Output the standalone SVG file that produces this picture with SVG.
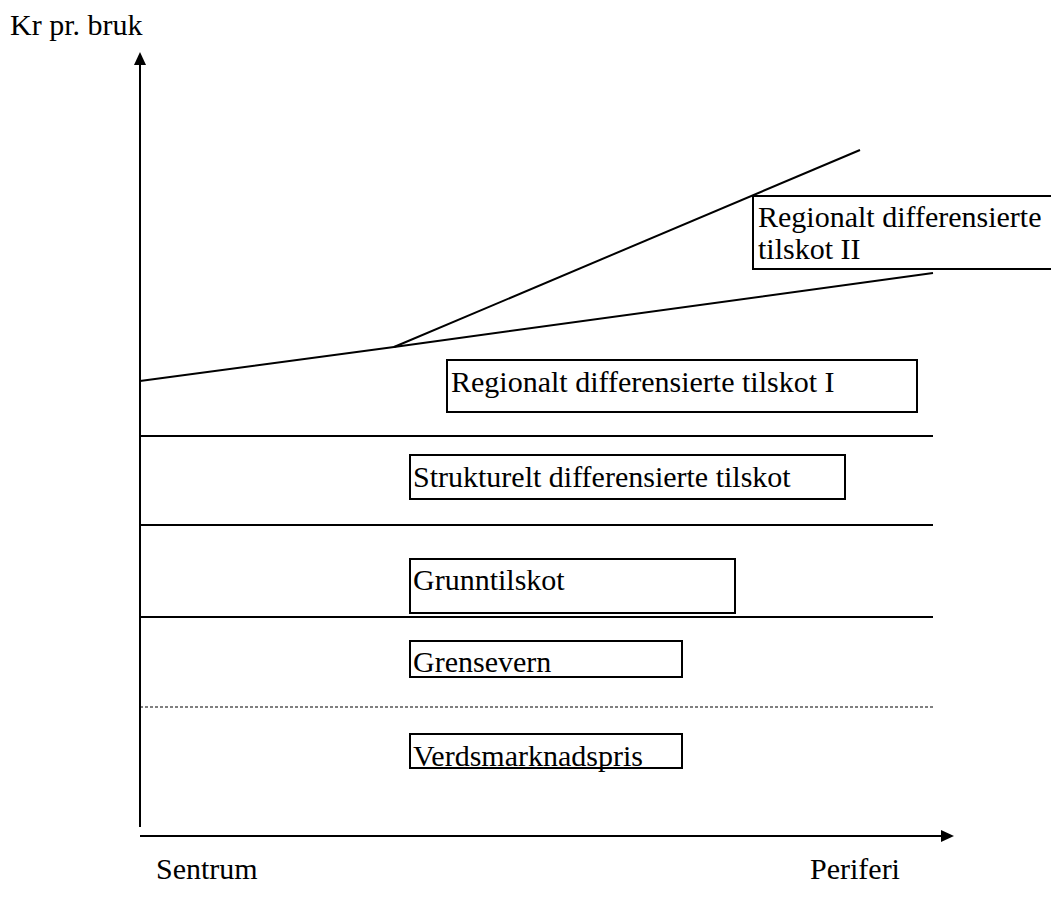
<svg xmlns="http://www.w3.org/2000/svg" width="1051" height="901" viewBox="0 0 1051 901">
<style>
.box{fill:#fff;stroke:#000;stroke-width:2}
.ln{stroke:#000;stroke-width:2;fill:none}
.head{fill:#000;stroke:none}
</style>
<rect width="1051" height="901" fill="#fff"/>
<g id="connectors">
<line class="ln" x1="140" y1="827" x2="140" y2="62"/>
<polygon class="head" points="140,52 134,65 146,65"/>
<line class="ln" x1="140" y1="836" x2="944" y2="836"/>
<polygon class="head" points="954,836 941,830 941,842"/>
<polyline class="ln" points="140,381 394,347 933,273"/>
<line class="ln" x1="394" y1="347" x2="860" y2="150"/>
<line class="ln" x1="140" y1="436" x2="933" y2="436"/>
<line class="ln" x1="140" y1="525" x2="933" y2="525"/>
<line class="ln" x1="140" y1="617" x2="933" y2="617"/>
<line x1="140" y1="707" x2="933" y2="707" stroke="#000" stroke-width="1" stroke-dasharray="3,2"/>
</g>
<g font-family="'Liberation Serif', 'Times New Roman', serif" font-size="30" fill="#000">
<g id="axis-labels">
<text x="10" y="35">Kr pr. bruk</text>
<text x="156" y="879">Sentrum</text>
<text x="810" y="879">Periferi</text>
</g>
<g id="node-reg2">
<rect class="box" x="753" y="196" width="300" height="73"/>
<text x="758" y="227">Regionalt differensierte</text>
<text x="758" y="259">tilskot II</text>
</g>
<g id="node-reg1">
<rect class="box" x="447" y="360" width="470" height="52"/>
<text x="451" y="392">Regionalt differensierte tilskot I</text>
</g>
<g id="node-struk">
<rect class="box" x="410" y="455" width="435" height="44"/>
<text x="413" y="487">Strukturelt differensierte tilskot</text>
</g>
<g id="node-grunn">
<rect class="box" x="410" y="559" width="325" height="54"/>
<text x="413" y="590">Grunntilskot</text>
</g>
<g id="node-grense">
<rect class="box" x="410" y="641" width="272" height="36"/>
<text x="413" y="672">Grensevern</text>
</g>
<g id="node-verds">
<rect class="box" x="410" y="734" width="272" height="34"/>
<text x="413" y="766">Verdsmarknadspris</text>
</g>
</g>
</svg>
